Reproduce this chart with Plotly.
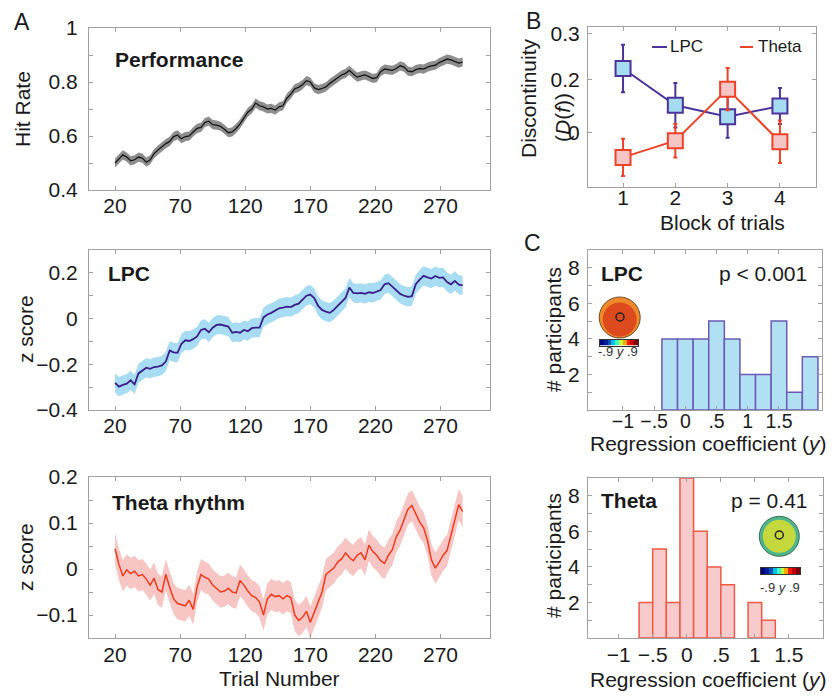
import plotly.graph_objects as go

W, H = 837, 696
OFF = 8  # page body margin compensation
FONT = "Arial, Liberation Sans, sans-serif"
TXT = "#1a1a1a"
AXC = "#a0a0a0"

# ---------------- data ----------------
trials = list(range(20, 288, 3))

perf = [0.500, 0.515, 0.530, 0.522, 0.508, 0.512, 0.522, 0.518, 0.503, 0.512,
        0.535, 0.548, 0.560, 0.572, 0.580, 0.598, 0.604, 0.590, 0.598, 0.600,
        0.615, 0.628, 0.632, 0.650, 0.655, 0.642, 0.640, 0.636, 0.625, 0.612,
        0.615, 0.628, 0.645, 0.665, 0.688, 0.700, 0.722, 0.712, 0.708, 0.700,
        0.702, 0.696, 0.708, 0.712, 0.740, 0.755, 0.775, 0.780, 0.790, 0.805,
        0.800, 0.778, 0.772, 0.776, 0.782, 0.795, 0.805, 0.818, 0.826, 0.832,
        0.843, 0.830, 0.818, 0.823, 0.826, 0.820, 0.813, 0.816, 0.838, 0.848,
        0.846, 0.843, 0.850, 0.860, 0.855, 0.840, 0.838, 0.846, 0.850, 0.848,
        0.855, 0.860, 0.862, 0.872, 0.878, 0.885, 0.882, 0.876, 0.870, 0.874]

lpc = [-0.281, -0.298, -0.290, -0.285, -0.270, -0.288, -0.240, -0.226, -0.215, -0.220,
       -0.212, -0.210, -0.205, -0.188, -0.140, -0.148, -0.150, -0.110, -0.095, -0.098,
       -0.090, -0.078, -0.050, -0.045, -0.060, -0.040, -0.028, -0.026, -0.030, -0.035,
       -0.062, -0.058, -0.062, -0.050, -0.055, -0.042, -0.040, -0.040, 0.005, 0.018,
       0.025, 0.035, 0.045, 0.048, 0.052, 0.050, 0.060, 0.065, 0.085, 0.100,
       0.105, 0.090, 0.055, 0.038, 0.030, 0.025, 0.038, 0.055, 0.072, 0.090,
       0.136, 0.112, 0.110, 0.112, 0.108, 0.115, 0.112, 0.118, 0.125, 0.150,
       0.155, 0.140, 0.125, 0.108, 0.100, 0.095, 0.098, 0.150, 0.170, 0.187,
       0.180, 0.175, 0.186, 0.178, 0.180, 0.160, 0.150, 0.165, 0.148, 0.145]

theta = [0.044, 0.010, -0.015, -0.002, -0.010, -0.005, -0.015, -0.012, -0.022, -0.035,
         -0.020, -0.045, -0.050, -0.012, -0.040, -0.065, -0.075, -0.078, -0.080, -0.068,
         -0.088, -0.040, -0.012, -0.018, -0.022, -0.035, -0.042, -0.050, -0.048, -0.042,
         -0.050, -0.052, -0.025, -0.035, -0.048, -0.058, -0.062, -0.072, -0.100, -0.065,
         -0.055, -0.060, -0.058, -0.065, -0.058, -0.062, -0.100, -0.112, -0.105, -0.092,
         -0.116, -0.095, -0.075, -0.050, -0.012, -0.005, 0.002, 0.015, 0.022, 0.035,
         0.025, 0.018, 0.030, 0.035, 0.020, 0.052, 0.038, 0.030, 0.018, 0.012,
         0.030, 0.042, 0.070, 0.085, 0.110, 0.130, 0.138, 0.118, 0.102, 0.090,
         0.062, 0.020, 0.002, 0.015, 0.030, 0.040, 0.072, 0.110, 0.140, 0.125]

perf_sem = 0.017
lpc_sem = 0.042
theta_sem = 0.034

blocks = [1, 2, 3, 4]
lpc_disc = [0.243, 0.104, 0.061, 0.101]
lpc_disc_err = [0.090, 0.084, 0.080, 0.068]
theta_disc = [-0.093, -0.030, 0.165, -0.034]
theta_disc_err = [0.070, 0.063, 0.080, 0.080]

lpc_bins = [-0.25, 0.0, 0.25, 0.5, 0.75, 1.0, 1.25, 1.5, 1.75, 2.0]
lpc_counts = [4, 4, 4, 5, 4, 2, 2, 5, 1, 3]
lpc_binw = 0.25
theta_bins = [-0.6, -0.4, -0.2, 0.0, 0.2, 0.4, 0.6, 0.8, 1.0, 1.2]
theta_counts = [2, 5, 2, 9, 6, 4, 3, 0, 2, 1]
theta_binw = 0.2

cbar_vals = [-0.9, -0.7, -0.5, -0.3, -0.1, 0.1, 0.3, 0.5, 0.7, 0.9]

hist_xticks = [-1, -0.5, 0, 0.5, 1, 1.5]
hist_xtext = ["\u22121", "\u2212.5", "0", ".5", "1", "1.5"]
trial_ticks = [20, 70, 120, 170, 220, 270]

LPC_LINE = "#4b3399"
THETA_LINE = "#ee4226"

# ---------------- helpers (reference pixels -> paper) ----------------
def px(x):
    return (x - OFF) / W

def py(y):
    return 1 - (y - OFF) / H

def dx(a, b):
    return [px(a), px(b)]

def dy(top, bottom):
    return [py(bottom), py(top)]

def axstyle(**kw):
    d = dict(showline=True, linecolor=AXC, linewidth=1, mirror="ticks",
             ticks="inside", ticklen=4, tickcolor=AXC, tickwidth=1,
             showgrid=False, zeroline=False, automargin=False,
             tickfont=dict(size=21, color=TXT, family=FONT))
    d.update(kw)
    return d

fig = go.Figure()

# ---------------- Panel A ----------------
def band(y, sem, color, xa, ya):
    lo = [v - sem for v in y]
    hi = [v + sem for v in y]
    fig.add_trace(go.Scatter(x=trials, y=lo, mode="lines", line=dict(width=0, color=color),
                             hoverinfo="skip", showlegend=False, xaxis=xa, yaxis=ya))
    fig.add_trace(go.Scatter(x=trials, y=hi, mode="lines", line=dict(width=0, color=color),
                             fill="tonexty", fillcolor=color, hoverinfo="skip",
                             showlegend=False, xaxis=xa, yaxis=ya))

band(perf, perf_sem, "#8e8e8e", "x", "y")
fig.add_trace(go.Scatter(x=trials, y=perf, mode="lines", line=dict(color="#151515", width=1.3),
                         showlegend=False, xaxis="x", yaxis="y"))
band(lpc, lpc_sem, "#a7dcf2", "x2", "y2")
fig.add_trace(go.Scatter(x=trials, y=lpc, mode="lines", line=dict(color="#3a1f8a", width=1.8),
                         showlegend=False, xaxis="x2", yaxis="y2"))
band(theta, theta_sem, "#f7c6c4", "x3", "y3")
fig.add_trace(go.Scatter(x=trials, y=theta, mode="lines", line=dict(color="#ee3b1c", width=1.5),
                         showlegend=False, xaxis="x3", yaxis="y3"))

# ---------------- Panel B ----------------
fig.add_trace(go.Scatter(x=blocks, y=lpc_disc, mode="lines+markers",
                         line=dict(color=LPC_LINE, width=2),
                         marker=dict(symbol="square", size=15, color="#a6dcf2",
                                     line=dict(color=LPC_LINE, width=2)),
                         error_y=dict(type="data", array=lpc_disc_err, color=LPC_LINE,
                                      thickness=2, width=2),
                         showlegend=False, xaxis="x4", yaxis="y4"))
fig.add_trace(go.Scatter(x=blocks, y=theta_disc, mode="lines+markers",
                         line=dict(color=THETA_LINE, width=2),
                         marker=dict(symbol="square", size=15, color="#f6c6c6",
                                     line=dict(color=THETA_LINE, width=2)),
                         error_y=dict(type="data", array=theta_disc_err, color=THETA_LINE,
                                      thickness=2, width=2),
                         showlegend=False, xaxis="x4", yaxis="y4"))

# ---------------- Panel C ----------------
fig.add_trace(go.Bar(x=lpc_bins, y=lpc_counts, width=lpc_binw,
                     marker=dict(color="#b2e0f3",
                                 line=dict(color="#6b5bb5",
                                           width=[1.5 if c > 0 else 0 for c in lpc_counts])),
                     showlegend=False, xaxis="x5", yaxis="y5"))
fig.add_trace(go.Bar(x=theta_bins, y=theta_counts, width=theta_binw,
                     marker=dict(color="#f7cbcb",
                                 line=dict(color="#ef5a45",
                                           width=[1.5 if c > 0 else 0 for c in theta_counts])),
                     showlegend=False, xaxis="x6", yaxis="y6"))

for xa, ya in (("x7", "y7"), ("x8", "y8")):
    fig.add_trace(go.Heatmap(x=cbar_vals, y=[0], z=[cbar_vals], colorscale="Jet",
                             zmin=-0.9, zmax=0.9, showscale=False, hoverinfo="skip",
                             xaxis=xa, yaxis=ya))

# ---------------- layout ----------------
A_X = dx(89, 490)
inset = dict(showticklabels=False, ticks="", showgrid=False, zeroline=False,
             showline=True, mirror=True, linecolor="#333", linewidth=0.8, automargin=False)
layout = dict(
    width=W, height=H, margin=dict(l=0, r=0, t=0, b=0, pad=0, autoexpand=False),
    paper_bgcolor="white", plot_bgcolor="white", barmode="overlay",
    font=dict(family=FONT, color=TXT),
    xaxis=axstyle(domain=A_X, range=[0, 308], tickvals=trial_ticks, anchor="y",
                  ticklabelstandoff=-3),
    yaxis=axstyle(domain=dy(28, 190), range=[0.4, 1.0], anchor="x",
                  tickvals=[0.4, 0.5, 0.6, 0.7, 0.8, 0.9, 1.0],
                  ticktext=["0.4", "", "0.6", "", "0.8", "", "1"], ticklabelstandoff=6),
    xaxis2=axstyle(domain=A_X, range=[0, 308], tickvals=trial_ticks, anchor="y2",
                   ticklabelstandoff=-3),
    yaxis2=axstyle(domain=dy(250, 410), range=[-0.4, 0.3], anchor="x2",
                   tickvals=[-0.4, -0.3, -0.2, -0.1, 0, 0.1, 0.2, 0.3],
                   ticktext=["\u22120.4", "", "\u22120.2", "", "0", "", "0.2", ""],
                   ticklabelstandoff=6),
    xaxis3=axstyle(domain=A_X, range=[0, 308], tickvals=trial_ticks, anchor="y3",
                   ticklabelstandoff=-2),
    yaxis3=axstyle(domain=dy(477, 638), range=[-0.15, 0.2], anchor="x3",
                   tickvals=[-0.15, -0.1, -0.05, 0, 0.05, 0.1, 0.15, 0.2],
                   ticktext=["", "\u22120.1", "", "0", "", "0.1", "", "0.2"],
                   ticklabelstandoff=6),
    xaxis4=axstyle(domain=dx(588, 816), range=[0.33, 4.69], tickvals=blocks, anchor="y4",
                   ticklabelstandoff=-8),
    yaxis4=axstyle(domain=dy(27, 187), range=[-0.205, 0.40], anchor="x4",
                   tickvals=[0, 0.2, 0.375], ticktext=["0", "0.2", "0.3"],
                   ticklabelstandoff=3),
    xaxis5=axstyle(domain=dx(588, 822), range=[-1.56, 2.19], tickvals=hist_xticks,
                   ticktext=hist_xtext, anchor="y5", ticklabelstandoff=-6,
                   tickfont=dict(size=19.5, color=TXT, family=FONT)),
    yaxis5=axstyle(domain=dy(250, 410), range=[0, 9], anchor="x5",
                   tickvals=[1, 2, 3, 4, 5, 6, 7, 8],
                   ticktext=["", "2", "", "4", "", "6", "", "8"], ticklabelstandoff=3),
    xaxis6=axstyle(domain=dx(588, 823), range=[-1.45, 2.0], tickvals=hist_xticks,
                   ticktext=hist_xtext, anchor="y6", ticklabelstandoff=-2),
    yaxis6=axstyle(domain=dy(478, 638), range=[0, 9], anchor="x6",
                   tickvals=[1, 2, 3, 4, 5, 6, 7, 8],
                   ticktext=["", "2", "", "4", "", "6", "", "8"], ticklabelstandoff=3),
    xaxis7=dict(domain=dx(600, 638), anchor="y7", **inset),
    yaxis7=dict(domain=dy(339.5, 345.5), anchor="x7", **inset),
    xaxis8=dict(domain=dx(761, 800), anchor="y8", **inset),
    yaxis8=dict(domain=dy(568, 574), anchor="x8", **inset),
)
fig.update_layout(**layout)

# ---------------- annotations ----------------
ann = []

def text(x, y, s, size=21, angle=0, xanchor="center", bold=False, color=TXT):
    if bold:
        s = "<b>" + s + "</b>"
    ann.append(dict(x=px(x), y=py(y), xref="paper", yref="paper", text=s, showarrow=False,
                    textangle=angle, xanchor=xanchor, yanchor="middle",
                    font=dict(size=size, color=color, family=FONT)))

text(22, 22, "A", size=23)
text(533, 21, "B", size=23)
text(532, 243, "C", size=23)

text(22, 109, "Hit Rate", angle=-90)
text(25, 329, "z score", angle=-90)
text(25, 557, "z score", angle=-90)
text(279, 678, "Trial Number")
text(113, 60, "Performance", bold=True, xanchor="left")
text(106, 273, "LPC", bold=True, xanchor="left")
text(110, 502, "Theta rhythm", bold=True, xanchor="left")

text(529, 98, "Discontinuity", angle=-90)
text(562, 118, "(<i>D</i>(<i>f</i>))", angle=-90)
text(722, 222, "Block of trials")
text(668, 47, "LPC", size=17, xanchor="left")
text(756, 47, "Theta", size=17, xanchor="left")

text(553, 330, "# participants", angle=-90)
text(553, 556, "# participants", angle=-90)
text(708, 444, "Regression coefficient (<i>y</i>)")
text(708, 679, "Regression coefficient (<i>y</i>)")
text(599, 273, "LPC", bold=True, xanchor="left")
text(763, 273, "p < 0.001")
text(599, 500, "Theta", bold=True, xanchor="left")
text(769, 500, "p = 0.41")
text(618, 352, "-.9 <i>y</i> .9", size=13, color="#333")
text(780, 587, "-.9 <i>y</i> .9", size=13, color="#333")

fig.update_layout(annotations=ann)

# ---------------- legend glyphs and topographic head insets ----------------
def circ(cx, cy, r, fill, line, lw):
    return dict(type="circle", xref="paper", yref="paper",
                x0=px(cx - r), x1=px(cx + r), y0=py(cy + r), y1=py(cy - r),
                fillcolor=fill, line=dict(color=line, width=lw), layer="above")

def seg(x0, x1, y, color):
    return dict(type="line", xref="paper", yref="paper", x0=px(x0), x1=px(x1),
                y0=py(y), y1=py(y), line=dict(color=color, width=2), layer="above")

shapes = [
    seg(652, 667, 47, LPC_LINE),
    seg(740, 753, 47, THETA_LINE),
    circ(619.7, 317.5, 20.5, "#ee8a2a", "#6b4a2a", 1),
    circ(619.7, 319.5, 17, "#dd4a1e", "rgba(0,0,0,0)", 0),
    circ(620, 317, 4, "rgba(0,0,0,0)", "#222", 1.5),
    circ(779.3, 536.3, 20, "#4fb58a", "#3a6a5a", 1),
    circ(779.3, 536.3, 16.5, "#c6d93c", "rgba(0,0,0,0)", 0),
    circ(779.3, 535, 4, "rgba(0,0,0,0)", "#222", 1.5),
]
fig.update_layout(shapes=shapes)

fig.write_html("out.html")
